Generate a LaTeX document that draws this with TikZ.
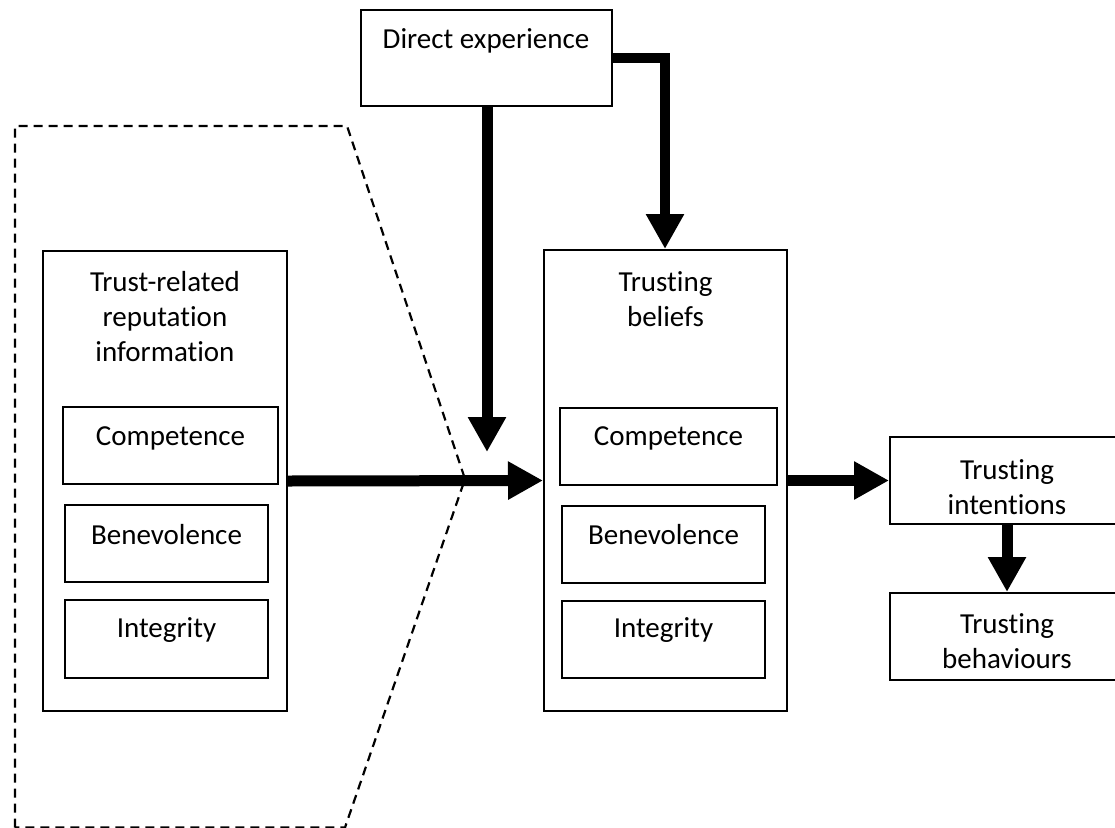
\documentclass[tikz,border=0pt]{standalone}
\usepackage{fontspec}
\setmainfont{Carlito}[Ligatures=NoCommon]
\usetikzlibrary{arrows.meta,fit}
\begin{document}
\begin{tikzpicture}[x=1pt,y=-1pt,
  box/.style={draw, line width=2pt, inner sep=0pt},
  lbl/.style={align=center, font=\fontsize{29}{35}\selectfont, inner sep=0pt},
  flow/.style={line width=11pt, -{Triangle[length=35pt,width=36pt]}},
  zone/.style={draw, line width=2.2pt, dash pattern=on 9pt off 6pt}
]
\useasboundingbox (0,0) rectangle (1115,827);
\clip (0,0) rectangle (1115,827);

% dashed region around the reputation block
\draw[zone] (15,827.5) -- (15,126) -- (347,126) -- (465,479) -- (345,827.5) -- cycle;

% direct experience
\node[box, fit={(361,10) (612,106)}] (direct) {};
\node[lbl] (directT) at (486,41) {Direct experience};

% reputation information block
\node[box, fit={(43,251) (287,711)}] (rep) {};
\node[lbl] (repT) at (165,317) {Trust-related\\reputation\\information};
\node[box, fit={(63,407) (278,484)}] (repC) {};
\node[lbl] (repCT) at (170.5,438) {Competence};
\node[box, fit={(65,505) (268,582)}] (repB) {};
\node[lbl] (repBT) at (166.5,535) {Benevolence};
\node[box, fit={(65,600) (268,678)}] (repI) {};
\node[lbl] (repIT) at (166.5,630) {Integrity};

% trusting beliefs block
\node[box, fit={(544,250) (787,711)}] (beliefs) {};
\node[lbl] (beliefsT) at (665.5,299) {Trusting\\beliefs};
\node[box, fit={(560,408) (777,485)}] (belC) {};
\node[lbl] (belCT) at (668.5,438) {Competence};
\node[box, fit={(562,506) (765,583)}] (belB) {};
\node[lbl] (belBT) at (663.5,535) {Benevolence};
\node[box, fit={(562,601) (765,678)}] (belI) {};
\node[lbl] (belIT) at (663.5,630) {Integrity};

% intentions and behaviours
\node[box, fit={(890,437) (1124,524)}] (intent) {};
\node[lbl] (intentT) at (1007,487) {Trusting\\intentions};
\node[box, fit={(890,593) (1124,680)}] (behav) {};
\node[lbl] (behavT) at (1007,641) {Trusting\\behaviours};

% connectors
\coordinate (corner) at (665,58);
\coordinate (drop) at (487,452);
\draw[flow, line width=10pt] (direct.east |- corner) -- (corner) -- (corner |- beliefs.north);
\draw[flow] (direct.south -| drop) -- (drop);
\draw[flow] (rep.east) -- (beliefs.west);
\draw[flow] (beliefs.east) -- (intent.west);
\draw[flow] (intent.south) -- (behav.north);
\end{tikzpicture}
\end{document}
